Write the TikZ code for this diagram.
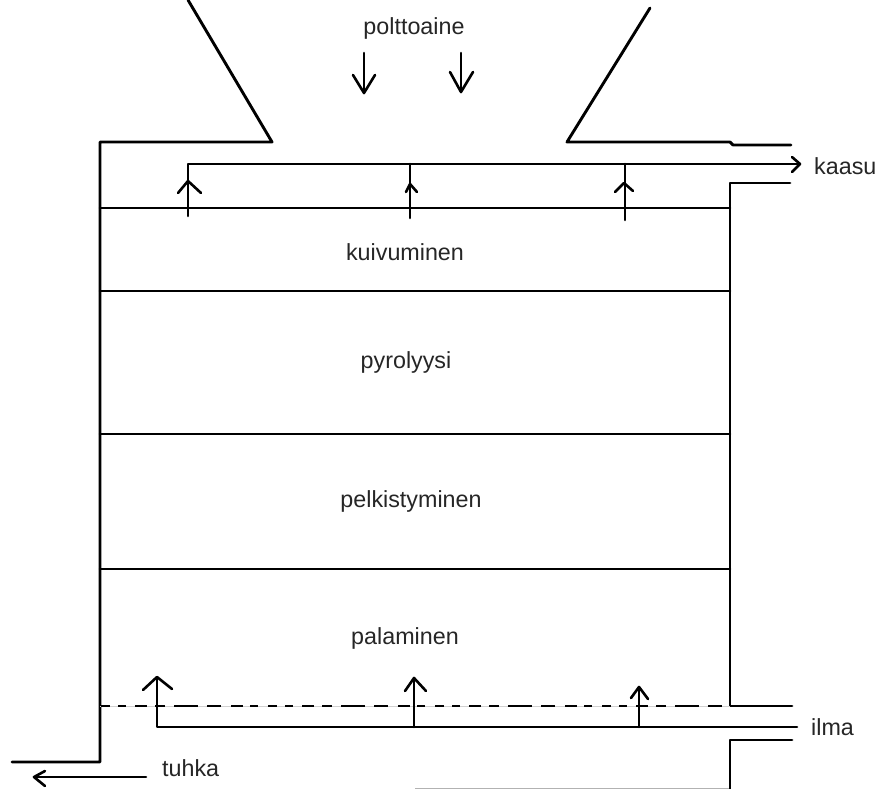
\documentclass[tikz,border=0pt]{standalone}
\usepackage{fontspec}
\setmainfont{Liberation Sans}
\tikzset{
  wall/.style={line width=2.9pt,black,line cap=round,line join=round},
  thin wall/.style={line width=2.6pt,black,line cap=round,line join=round},
  label/.style={inner sep=0pt,font=\fontsize{23.3}{26}\selectfont,text=black!85},
}
\begin{document}
\begin{tikzpicture}[x=1pt,y=-1pt]
\useasboundingbox (0,0) rectangle (879,789);
\fill[white] (0,0) rectangle (879,789);
% faint line at the bottom
\draw[line width=1pt,black!30] (415,788.5) -- (730,788.5);
% outer walls
\draw[wall] (188,0) -- (272,142) -- (100,142) -- (100,762) -- (12,762);
\draw[wall] (650,8) -- (567,142) -- (730,142) -- (733,145) -- (791,145);
\draw[wall] (790,183) -- (730,183) -- (730,706) -- (792,706);
\draw[wall] (792,740) -- (730,740) -- (730,789);
% zones
\foreach \y in {208,291,434,569} \draw[thin wall] (100,\y) -- (730,\y);
% dashed grate
\draw[line width=1pt,black!18] (100,706) -- (730,706);
\draw[line width=2.6pt,black,dash pattern=on 9pt off 8pt on 8pt off 9pt on 12pt off 8pt on 10pt off 9pt on 24pt off 9pt on 14pt off 10pt on 12pt off 7pt on 8pt off 10pt]
  (101,706) -- (730,706);
% gas collector
\draw[thin wall] (188,216) -- (188,164) -- (799,164);
\draw[thin wall] (792,157) -- (800,164) -- (792,172);
\draw[thin wall] (410,164) -- (410,218);
\draw[thin wall] (625,164) -- (625,220);
\draw[thin wall] (178,193) -- (188,181) -- (201,193);
\draw[thin wall] (406,192) -- (410,184) -- (417,192);
\draw[thin wall] (615,192) -- (624,183) -- (633,191);
% air line
\draw[thin wall] (157,678) -- (157,727) -- (797,727);
\draw[thin wall] (414,678) -- (414,727);
\draw[thin wall] (639,688) -- (639,727);
\draw[thin wall] (143,690) -- (157,677) -- (172,689);
\draw[thin wall] (405,691) -- (414,678) -- (426,691);
\draw[thin wall] (631,698) -- (639,687) -- (648,699);
% fuel arrows
\draw[thin wall] (364,53) -- (364,93);
\draw[thin wall] (353,75) -- (364,93) -- (375,75);
\draw[thin wall] (461,53) -- (461,92);
\draw[thin wall] (450,72) -- (461,92) -- (473,72);
% ash arrow
\draw[thin wall] (146,777) -- (34,777);
\draw[thin wall] (45,771) -- (34,777) -- (45,786);
% labels
\node[label] (polttoaine) at (414,28) {polttoaine};
\node[label] (kuivuminen) at (405,252) {kuivuminen};
\node[label] (pyrolyysi) at (406,362) {pyrolyysi};
\node[label] (pelkistyminen) at (411,501) {pelkistyminen};
\node[label] (palaminen) at (405,638) {palaminen};
\node[label,anchor=base west] (kaasu) at (814,175) {kaasu};
\node[label,anchor=base west] (ilma) at (811,735) {ilma};
\node[label,anchor=base west] (tuhka) at (162,776) {tuhka};
\end{tikzpicture}
\end{document}
